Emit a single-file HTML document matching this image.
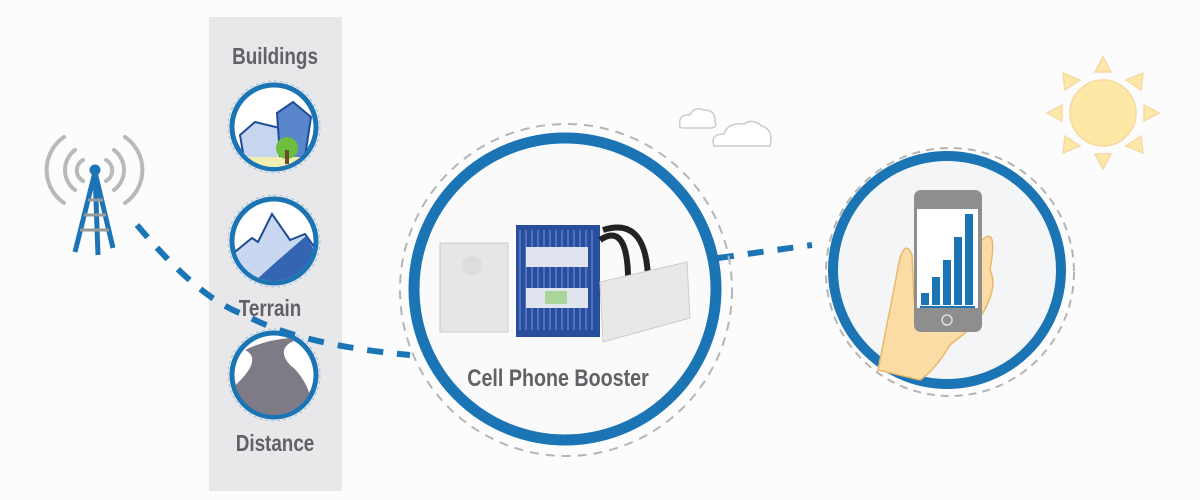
<!DOCTYPE html>
<html><head><style>
html,body{margin:0;padding:0;background:#fcfcfc;}
svg{display:block}
text{font-family:"Liberation Sans",sans-serif;font-weight:bold;fill:#626266}
</style></head><body>
<svg width="1200" height="500" viewBox="0 0 1200 500">
<defs>
<clipPath id="c1"><circle cx="274" cy="127" r="40"/></clipPath>
<clipPath id="c2"><circle cx="274" cy="241" r="40"/></clipPath>
<clipPath id="c3"><circle cx="274" cy="375" r="40"/></clipPath>
</defs>
<rect width="1200" height="500" fill="#fcfcfc"/>
<rect x="209" y="17" width="133" height="474" fill="#e8e8ea"/>
<text x="0" y="0" font-size="23" text-anchor="middle" transform="translate(275,64) scale(0.82,1)">Buildings</text>
<text x="0" y="0" font-size="23" text-anchor="middle" transform="translate(270,316) scale(0.82,1)">Terrain</text>
<text x="0" y="0" font-size="23" text-anchor="middle" transform="translate(275,451) scale(0.82,1)">Distance</text>
<g>
<circle cx="274" cy="127" r="46" fill="none" stroke="#9fc0dd" stroke-dasharray="3 3"/>
<circle cx="274" cy="127" r="42" fill="#fff" stroke="#1b75b5" stroke-width="5"/>
<g clip-path="url(#c1)">
<polygon points="240,135 255,122 288,130 283,170 246,170" fill="#c7d6ef" stroke="#1e4d95" stroke-width="2"/>
<polygon points="277,113 293,102 311,117 303,170 281,170" fill="#5a86cc" stroke="#1e4d95" stroke-width="2"/>
<rect x="230" y="157" width="90" height="14" fill="#f2efb0"/>
<circle cx="287" cy="148" r="11" fill="#6cbf3c"/>
<rect x="285" y="150" width="4" height="14" fill="#6b4b2a"/>
</g>
</g>
<g>
<circle cx="274" cy="241" r="46" fill="none" stroke="#9fc0dd" stroke-dasharray="3 3"/>
<circle cx="274" cy="241" r="42" fill="#fff" stroke="#1b75b5" stroke-width="5"/>
<g clip-path="url(#c2)">
<polygon points="230,256 252,238 258,242 272,214 290,240 305,234 320,255 300,290 230,290" fill="#c9d8f0" stroke="#1e4d95" stroke-width="2"/>
<polygon points="245,290 276,262 306,236 320,260 320,290" fill="#3465b3"/>
</g>
</g>
<g>
<circle cx="274" cy="375" r="46" fill="none" stroke="#9fc0dd" stroke-dasharray="3 3"/>
<circle cx="274" cy="375" r="42" fill="#fff" stroke="#1b75b5" stroke-width="5"/>
<g clip-path="url(#c3)">
<path d="M230,390 Q265,360 245,350 Q265,340 290,338 L296,340 Q275,348 290,365 Q310,380 316,420 L230,420 Z" fill="#7e7a86"/>
</g>
</g>
<g fill="none" stroke="#b9b9b9" stroke-width="4" stroke-linecap="round">
<path d="M75,150 A25,25 0 0 0 75,190"/><path d="M114,150 A25,25 0 0 1 114,190"/>
<path d="M64,137 A40,40 0 0 0 64,203"/><path d="M125,137 A40,40 0 0 1 125,203"/>
<path d="M83,160 A12,12 0 0 0 83,181"/><path d="M106,160 A12,12 0 0 1 106,181"/>
</g>
<g stroke="#1b75b5" stroke-width="5" fill="none">
<circle cx="95" cy="170" r="3" fill="#1b75b5"/>
<path d="M95,172 L75,252 M95,172 L113,248 M95,172 L98,255"/>
</g>
<g stroke="#999" stroke-width="3"><path d="M88,200 L103,200 M84,215 L106,215 M80,230 L109,230"/></g>
<path d="M137,225 Q200,300 245,315 Q300,345 410,355" fill="none" stroke="#1b75b5" stroke-width="6" stroke-dasharray="16 14"/>
<path d="M718,258 L812,245" fill="none" stroke="#1b75b5" stroke-width="6" stroke-dasharray="16 14"/>
<g fill="#fff" stroke="#ccc" stroke-width="1.5">
<path d="M680,126 Q678,114 690,115 Q694,106 704,110 Q716,110 715,122 Q718,126 712,128 L684,128 Q678,128 680,126 Z"/>
<path d="M714,146 Q710,134 724,134 Q728,122 744,124 Q752,118 762,126 Q774,130 770,146 Z"/>
</g>
<circle cx="566" cy="290" r="166" fill="none" stroke="#b5b5b5" stroke-width="2" stroke-dasharray="9 7"/>
<circle cx="565" cy="289" r="151" fill="#fafafa" stroke="#1b75b5" stroke-width="11"/>
<rect x="440" y="243" width="68" height="89" fill="#e6e6e6" stroke="#ccc"/>
<circle cx="472" cy="266" r="10" fill="#ddd"/>
<rect x="516" y="225" width="84" height="112" fill="#2a4e9e"/>
<g stroke="#5072bf" stroke-width="2"><path d="M520,230v100M526,230v100M532,230v100M538,230v100M544,230v100M550,230v100M556,230v100M562,230v100M568,230v100M574,230v100M580,230v100M586,230v100M592,230v100"/></g>
<rect x="526" y="247" width="62" height="20" fill="#dfe4ee"/>
<rect x="526" y="288" width="62" height="20" fill="#dfe4ee"/>
<rect x="545" y="291" width="22" height="13" fill="#a9d49a"/>
<path d="M603,230 Q650,215 648,290" fill="none" stroke="#222" stroke-width="6"/>
<path d="M600,240 Q630,220 628,290" fill="none" stroke="#222" stroke-width="6"/>
<polygon points="600,282 687,262 690,318 603,342" fill="#e8e8e8" stroke="#ccc"/>
<text x="0" y="0" font-size="24" text-anchor="middle" transform="translate(558,386) scale(0.82,1)">Cell Phone Booster</text>
<circle cx="950" cy="272" r="124" fill="none" stroke="#b5b5b5" stroke-width="2" stroke-dasharray="8 6"/>
<circle cx="947" cy="270" r="114" fill="#f4f5f7" stroke="#1b75b5" stroke-width="10"/>
<path d="M878,370 Q890,310 900,258 Q906,240 912,255 L914,300 L982,240 Q998,225 990,270 Q1000,290 975,325 L950,345 Q935,370 920,380 Z" fill="#fbdca5" stroke="#e8b86d" stroke-width="1.5"/>
<rect x="914" y="190" width="68" height="142" rx="7" fill="#8e8e8e"/>
<rect x="917" y="209" width="61" height="99" fill="#fff"/>
<g fill="#1b75b5"><rect x="921" y="293" width="8" height="12"/><rect x="932" y="277" width="8" height="28"/><rect x="943" y="260" width="8" height="45"/><rect x="954" y="237" width="8" height="68"/><rect x="965" y="214" width="8" height="91"/><rect x="920" y="306" width="55" height="2"/></g>
<circle cx="947" cy="320" r="5" fill="none" stroke="#ddd" stroke-width="1.5"/>
<g fill="#fde8a8" stroke="#f6d9a3" stroke-width="1.5">
<circle cx="1103" cy="113" r="33"/>
<polygon points="1103,57 1095,72 1111,72"/><polygon points="1103,169 1095,154 1111,154"/>
<polygon points="1047,113 1062,105 1062,121"/><polygon points="1159,113 1144,105 1144,121"/>
<polygon points="1063,73 1065,90 1080,80"/><polygon points="1143,73 1141,90 1126,80"/>
<polygon points="1063,153 1065,136 1080,146"/><polygon points="1143,153 1141,136 1126,146"/>
</g>
</svg>
</body></html>
